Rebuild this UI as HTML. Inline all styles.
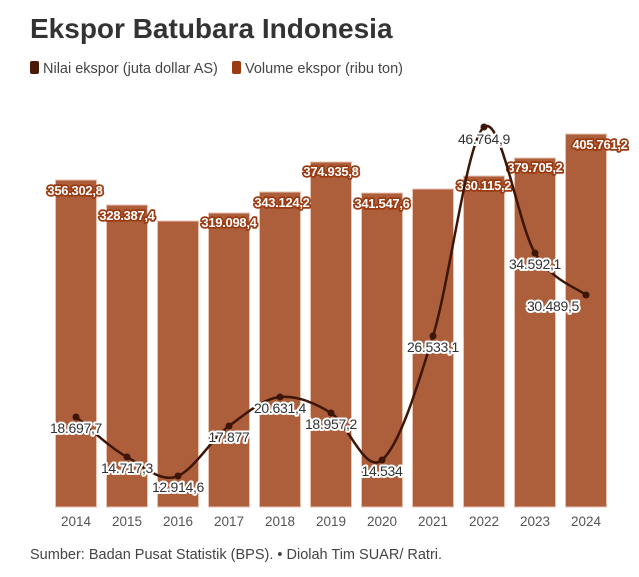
<!DOCTYPE html>
<html><head><meta charset="utf-8"><style>
html,body{margin:0;padding:0;background:#fff;}
svg{display:block;font-family:"Liberation Sans",sans-serif;}
.bl{font-size:13px;font-weight:bold;fill:#fff;stroke:#9a3b12;stroke-width:3.5px;paint-order:stroke;stroke-linejoin:round;text-anchor:middle;letter-spacing:-0.3px}
.ll{font-size:14px;fill:#333;stroke:#fff;stroke-width:4px;paint-order:stroke;stroke-linejoin:round;text-anchor:middle;letter-spacing:-0.3px}
.ax{font-size:13.5px;fill:#555;text-anchor:middle}
</style></head><body>
<svg width="639" height="577" viewBox="0 0 639 577">
<text x="30" y="38" font-size="28" font-weight="bold" fill="#333">Ekspor Batubara Indonesia</text>
<rect x="30" y="61" width="9" height="13" rx="2" fill="#4a1a08"/>
<text x="43" y="73" font-size="14.5" fill="#444">Nilai ekspor (juta dollar AS)</text>
<rect x="232" y="61" width="9" height="13" rx="2" fill="#9a3b12"/>
<text x="245" y="73" font-size="14.5" fill="#444">Volume ekspor (ribu ton)</text>
<g fill="#ad5e3a" stroke="#e9c3b0" stroke-width="1">
<rect x="55.5" y="180" width="41" height="327"/>
<rect x="106.5" y="205" width="41" height="302"/>
<rect x="157.5" y="221" width="41" height="286"/>
<rect x="208.5" y="213" width="41" height="294"/>
<rect x="259.5" y="192" width="41" height="315"/>
<rect x="310.5" y="162" width="41" height="345"/>
<rect x="361.5" y="193" width="41" height="314"/>
<rect x="412.5" y="189" width="41" height="318"/>
<rect x="463.5" y="176" width="41" height="331"/>
<rect x="514.5" y="158" width="41" height="349"/>
<rect x="565.5" y="134" width="41" height="373"/>
</g>
<g class="bl">
<text x="75" y="195">356.302,8</text>
<text x="127" y="220">328.387,4</text>
<text x="229" y="227">319.098,4</text>
<text x="282" y="207">343.124,2</text>
<text x="331" y="176">374.935,8</text>
<text x="382" y="208">341.547,6</text>
<text x="484" y="190">360.115,2</text>
<text x="535" y="172">379.705,2</text>
<text x="600" y="149">405.761,2</text>
</g>
<path d="M76,417 C84.5,423.7 110,447.8 127,457 C144,466.2 161,483.5 178,476 C195,468.5 212,438.3 229,426 C246,413.7 263,398.5 280,397 C297,395.5 314,402.5 331,413 C348,423.5 365,474.5 382,460 C399,445.5 416,391.5 433,336 C450,280.5 467,140 484,127 C501,114 518,225 535,253 C552,281 577.5,288 586,295" fill="none" stroke="#3d1607" stroke-width="2.5"/>
<g fill="#3d1607">
<circle cx="76" cy="417" r="3.5"/><circle cx="127" cy="457" r="3.5"/><circle cx="178" cy="476" r="3.5"/><circle cx="229" cy="426" r="3.5"/><circle cx="280" cy="397" r="3.5"/><circle cx="331" cy="413" r="3.5"/><circle cx="382" cy="460" r="3.5"/><circle cx="433" cy="336" r="3.5"/><circle cx="484" cy="127" r="3.5"/><circle cx="535" cy="253" r="3.5"/><circle cx="586" cy="295" r="3.5"/>
</g>
<g class="ll">
<text x="76" y="433">18.697,7</text>
<text x="127" y="473">14.717,3</text>
<text x="178" y="492">12.914,6</text>
<text x="229" y="442">17.877</text>
<text x="280" y="413">20.631,4</text>
<text x="331" y="429">18.957,2</text>
<text x="382" y="476">14.534</text>
<text x="433" y="352">26.533,1</text>
<text x="484" y="144">46.764,9</text>
<text x="535" y="269">34.592,1</text>
<text x="553" y="311">30.489,5</text>
</g>
<g class="ax">
<text x="76" y="526">2014</text><text x="127" y="526">2015</text><text x="178" y="526">2016</text><text x="229" y="526">2017</text><text x="280" y="526">2018</text><text x="331" y="526">2019</text><text x="382" y="526">2020</text><text x="433" y="526">2021</text><text x="484" y="526">2022</text><text x="535" y="526">2023</text><text x="586" y="526">2024</text>
</g>
<text x="30" y="559" font-size="14.5" fill="#444">Sumber: Badan Pusat Statistik (BPS). • Diolah Tim SUAR/ Ratri.</text>
</svg>
</body></html>
